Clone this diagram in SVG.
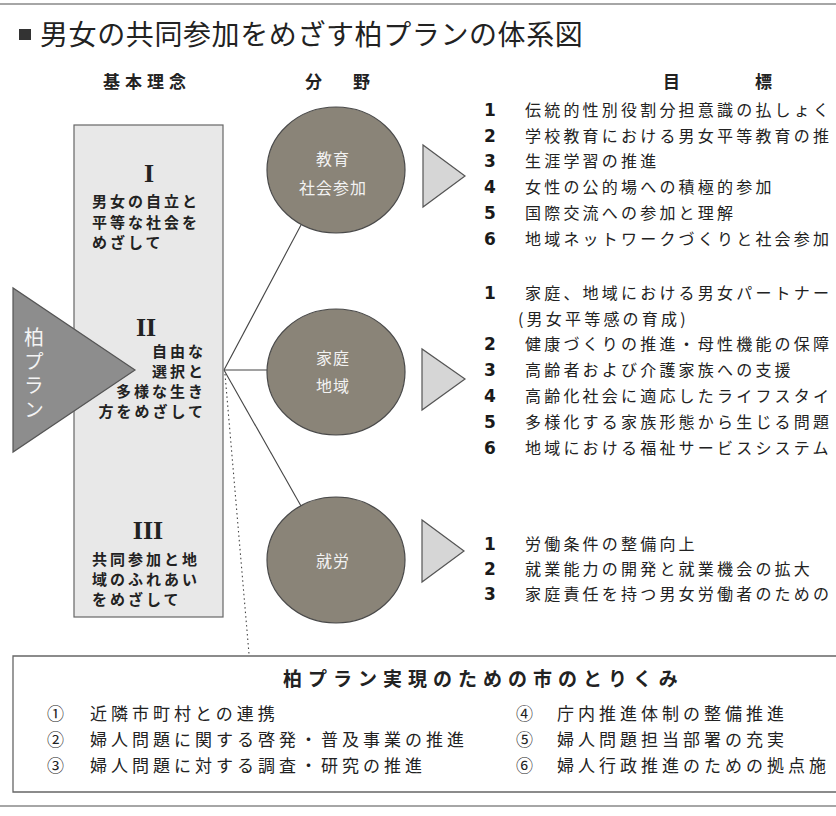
<svg xmlns="http://www.w3.org/2000/svg" width="836" height="816" viewBox="0 0 836 816">
<style>
text{font-family:"Noto Sans CJK JP","Noto Sans CJK SC",sans-serif;fill:#222}
.title{font-size:28px;letter-spacing:0.6px}
.head{font-size:17px;font-weight:bold}
.roman{font-family:"Liberation Serif",serif;font-weight:bold;font-size:26px}
.idea{font-size:15px;font-weight:bold;letter-spacing:3px}
.fld{font-size:16px;fill:#f2f2f2;letter-spacing:1px}
.item{font-size:16px;letter-spacing:3.2px}
.num{font-family:"DejaVu Sans",sans-serif;font-weight:bold;font-size:17px;fill:#1a1a1a}
.btitle{font-size:19px;font-weight:bold;letter-spacing:6px}
.bitem{font-size:17px;letter-spacing:4px}
.circ{fill:#8a8478;stroke:#4a4a4a;stroke-width:1.2}
.tri{fill:#d6d6d6;stroke:#555;stroke-width:1.2}
.rule{stroke:#888;stroke-width:1.5}
.conn{stroke:#444;stroke-width:1.1;fill:none}
</style>
<rect x="0" y="0" width="836" height="816" fill="#ffffff"/>
<line class="rule" x1="0" y1="4" x2="836" y2="4"/>
<line class="rule" x1="0" y1="806" x2="836" y2="806"/>
<g id="title">
<rect x="19" y="29" width="12" height="11" fill="#333"/>
<text class="title" x="40" y="45">男女の共同参加をめざす柏プランの体系図</text>
</g>
<g id="headers">
<text class="head" x="103" y="88" letter-spacing="5">基本理念</text>
<text class="head" x="305" y="88">分</text>
<text class="head" x="353" y="88">野</text>
<text class="head" x="663" y="88">目</text>
<text class="head" x="755" y="88">標</text>
</g>
<g id="connectors">
<line class="conn" x1="224" y1="370" x2="301" y2="225"/>
<line class="conn" x1="224" y1="370" x2="267" y2="370"/>
<line class="conn" x1="224" y1="370" x2="301" y2="506"/>
<line class="conn" x1="225" y1="374" x2="249" y2="654" stroke-dasharray="1.5 3" stroke-width="1.5"/>
</g>
<g id="ideas">
<rect x="74" y="125" width="149" height="492" fill="#e8e8e8" stroke="#666" stroke-width="1.2"/>
<text class="roman" x="149" y="182" text-anchor="middle">I</text>
<text class="idea" x="92" y="207">男女の自立と</text>
<text class="idea" x="92" y="228">平等な社会を</text>
<text class="idea" x="92" y="248">めざして</text>
<text class="roman" x="146" y="336" text-anchor="middle">II</text>
<text class="idea" x="206" y="357" text-anchor="end">自由な</text>
<text class="idea" x="206" y="377" text-anchor="end">選択と</text>
<text class="idea" x="206" y="397" text-anchor="end">多様な生き</text>
<text class="idea" x="206" y="417" text-anchor="end">方をめざして</text>
<text class="roman" x="148" y="539" text-anchor="middle">III</text>
<text class="idea" x="92" y="565">共同参加と地</text>
<text class="idea" x="92" y="585">域のふれあい</text>
<text class="idea" x="92" y="605">をめざして</text>
</g>
<g id="plan">
<polygon points="13,288 13,452 135,370" fill="#8d8d8d" stroke="#555" stroke-width="1.2"/>
<text x="34" y="327" font-size="20" writing-mode="tb" letter-spacing="4" style="fill:#f4f4f4">柏プラン</text>
</g>
<g id="field-education">
<ellipse class="circ" cx="336" cy="170" rx="69" ry="63"/>
<text class="fld" x="333" y="165" text-anchor="middle">教育</text>
<text class="fld" x="333" y="194" text-anchor="middle">社会参加</text>
<polygon class="tri" points="423,145 423,207 465,176"/>
</g>
<g id="field-family">
<ellipse class="circ" cx="336" cy="372" rx="69" ry="63"/>
<text class="fld" x="333" y="364" text-anchor="middle">家庭</text>
<text class="fld" x="333" y="392" text-anchor="middle">地域</text>
<polygon class="tri" points="422,349 422,410 465,379"/>
</g>
<g id="field-work">
<ellipse class="circ" cx="336" cy="560" rx="69" ry="63"/>
<text class="fld" x="333" y="567" text-anchor="middle">就労</text>
<polygon class="tri" points="422,520 422,582 464,551"/>
</g>
<g id="goals-education">
<text class="num" x="484" y="116">1</text><text class="item" x="525" y="116">伝統的性別役割分担意識の払しょく</text>
<text class="num" x="484" y="142">2</text><text class="item" x="525" y="142">学校教育における男女平等教育の推</text>
<text class="num" x="484" y="167">3</text><text class="item" x="525" y="167">生涯学習の推進</text>
<text class="num" x="484" y="193">4</text><text class="item" x="525" y="193">女性の公的場への積極的参加</text>
<text class="num" x="484" y="219">5</text><text class="item" x="525" y="219">国際交流への参加と理解</text>
<text class="num" x="484" y="245">6</text><text class="item" x="525" y="245">地域ネットワークづくりと社会参加</text>
</g>
<g id="goals-family">
<text class="num" x="484" y="299">1</text><text class="item" x="525" y="299">家庭、地域における男女パートナー</text>
<text class="item" x="518" y="325">(男女平等感の育成)</text>
<text class="num" x="484" y="350">2</text><text class="item" x="525" y="350">健康づくりの推進・母性機能の保障</text>
<text class="num" x="484" y="376">3</text><text class="item" x="525" y="376">高齢者および介護家族への支援</text>
<text class="num" x="484" y="402">4</text><text class="item" x="525" y="402">高齢化社会に適応したライフスタイ</text>
<text class="num" x="484" y="428">5</text><text class="item" x="525" y="428">多様化する家族形態から生じる問題</text>
<text class="num" x="484" y="454">6</text><text class="item" x="525" y="454">地域における福祉サービスシステム</text>
</g>
<g id="goals-work">
<text class="num" x="484" y="550">1</text><text class="item" x="525" y="550">労働条件の整備向上</text>
<text class="num" x="484" y="575">2</text><text class="item" x="525" y="575">就業能力の開発と就業機会の拡大</text>
<text class="num" x="484" y="600">3</text><text class="item" x="525" y="600">家庭責任を持つ男女労働者のための</text>
</g>
<g id="city-actions">
<path d="M836,656 H13 V792 H836" fill="none" stroke="#666" stroke-width="1.3"/>
<text class="btitle" x="283" y="686">柏プラン実現のための市のとりくみ</text>
<text class="bitem" x="47" y="720">①</text><text class="bitem" x="90" y="720">近隣市町村との連携</text>
<text class="bitem" x="47" y="746">②</text><text class="bitem" x="90" y="746">婦人問題に関する啓発・普及事業の推進</text>
<text class="bitem" x="47" y="772">③</text><text class="bitem" x="90" y="772">婦人問題に対する調査・研究の推進</text>
<text class="bitem" x="516" y="720">④</text><text class="bitem" x="557" y="720">庁内推進体制の整備推進</text>
<text class="bitem" x="516" y="746">⑤</text><text class="bitem" x="557" y="746">婦人問題担当部署の充実</text>
<text class="bitem" x="516" y="772">⑥</text><text class="bitem" x="557" y="772">婦人行政推進のための拠点施</text>
</g>
</svg>
